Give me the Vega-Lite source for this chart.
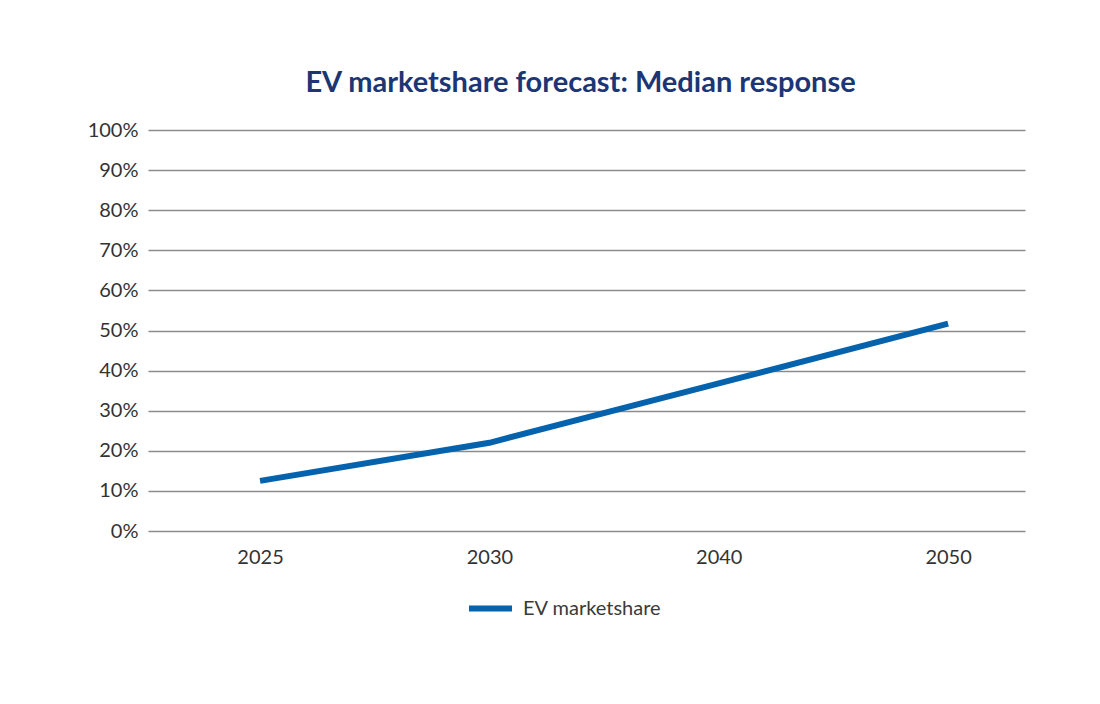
{
  "$schema": "https://vega.github.io/schema/vega-lite/v6.json",
  "autosize": "none",
  "width": 877,
  "height": 401,
  "padding": {"left": 148, "top": 130, "right": 75, "bottom": 173},
  "background": "white",
  "config": {
    "font": "Lato",
    "view": {"stroke": null}
  },
  "title": {
    "text": "EV marketshare forecast: Median response",
    "font": "Lato",
    "fontSize": 29,
    "fontWeight": "bold",
    "color": "#1c3675",
    "anchor": "middle",
    "offset": 22,
    "dx": -6
  },
  "data": {
    "values": [
      {"year": "2025", "share": 0.125, "series": "EV marketshare"},
      {"year": "2030", "share": 0.22, "series": "EV marketshare"},
      {"year": "2040", "share": 0.368, "series": "EV marketshare"},
      {"year": "2050", "share": 0.517, "series": "EV marketshare"}
    ]
  },
  "mark": {"type": "line", "strokeWidth": 6, "interpolate": "linear"},
  "encoding": {
    "x": {
      "field": "year",
      "type": "ordinal",
      "sort": null,
      "scale": {"type": "point", "padding": 0.412, "align": 0.593},
      "axis": {
        "title": null,
        "labelAngle": 0,
        "labelFontSize": 20,
        "labelColor": "#333333",
        "labelPadding": 16,
        "domain": false,
        "ticks": false,
        "grid": false
      }
    },
    "y": {
      "field": "share",
      "type": "quantitative",
      "scale": {"domain": [0, 1]},
      "axis": {
        "title": null,
        "format": ".0%",
        "values": [0, 0.1, 0.2, 0.3, 0.4, 0.5, 0.6, 0.7, 0.8, 0.9, 1],
        "labelFontSize": 20,
        "labelColor": "#333333",
        "labelPadding": 10,
        "domain": false,
        "ticks": false,
        "grid": true,
        "gridColor": "#8c8c8c",
        "gridWidth": 1.6
      }
    },
    "color": {
      "field": "series",
      "type": "nominal",
      "scale": {"domain": ["EV marketshare"], "range": ["#0563ad"]},
      "legend": {
        "title": null,
        "orient": "none",
        "legendX": 318,
        "legendY": 454,
        "direction": "horizontal",
        "symbolType": "stroke",
        "symbolSize": 1849,
        "symbolStrokeWidth": 6,
        "labelFontSize": 20,
        "labelColor": "#3a3a3a",
        "labelOffset": 8
      }
    }
  }
}
